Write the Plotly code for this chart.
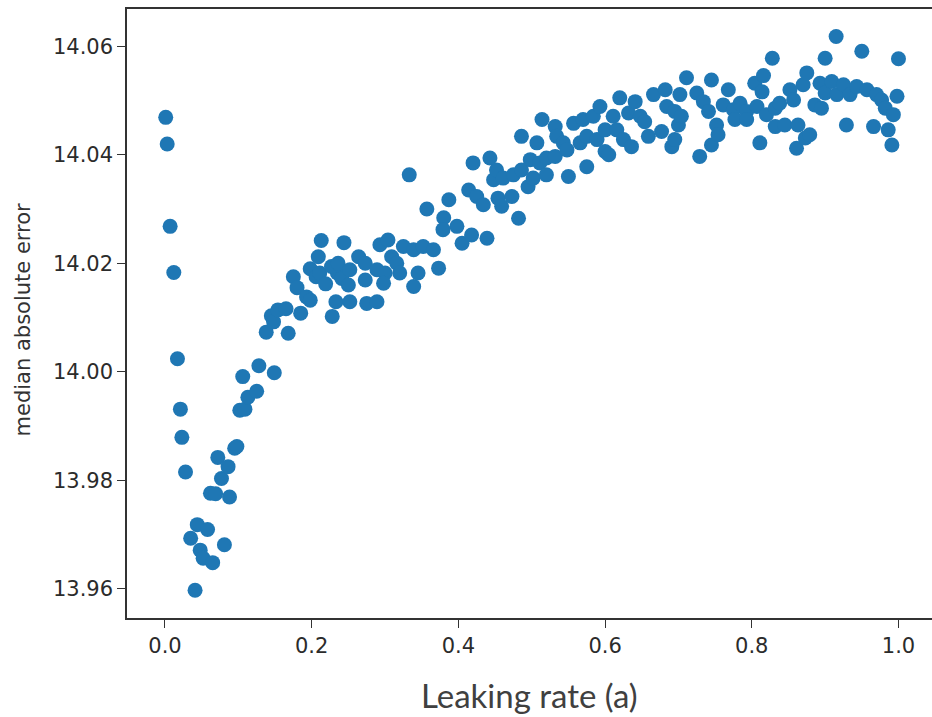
import plotly.graph_objects as go

# Leaking rate (a) vs. median absolute error of the reservoir model
leak_rate = [
    0.001, 0.003, 0.007, 0.012, 0.017, 0.021, 0.023, 0.028, 0.035, 0.041,
    0.044, 0.048, 0.052, 0.058, 0.062, 0.065, 0.069, 0.072, 0.077, 0.081,
    0.086, 0.088, 0.095, 0.098, 0.102, 0.109, 0.106, 0.113, 0.125, 0.128,
    0.149, 0.138, 0.145, 0.148, 0.154, 0.165, 0.168, 0.175, 0.180, 0.185,
    0.193, 0.198, 0.198, 0.206, 0.211, 0.219, 0.235, 0.209, 0.213, 0.227,
    0.236, 0.233, 0.228, 0.244, 0.241, 0.250, 0.252, 0.252, 0.264, 0.273,
    0.273, 0.275, 0.289, 0.289, 0.293, 0.304, 0.300, 0.298, 0.309, 0.316,
    0.320, 0.325, 0.333, 0.339, 0.339, 0.345, 0.352, 0.357, 0.366, 0.373,
    0.380, 0.379, 0.387, 0.398, 0.405, 0.414, 0.418, 0.420, 0.425, 0.434,
    0.439, 0.443, 0.448, 0.452, 0.454, 0.459, 0.461, 0.473, 0.475, 0.482,
    0.486, 0.486, 0.495, 0.498, 0.502, 0.507, 0.511, 0.514, 0.520, 0.520,
    0.532, 0.532, 0.534, 0.543, 0.548, 0.550, 0.557, 0.566, 0.570, 0.575,
    0.575, 0.584, 0.589, 0.593, 0.600, 0.600, 0.605, 0.611, 0.616, 0.620,
    0.625, 0.632, 0.636, 0.641, 0.648, 0.654, 0.659, 0.666, 0.677, 0.682,
    0.684, 0.691, 0.695, 0.695, 0.700, 0.702, 0.704, 0.711, 0.725, 0.729,
    0.734, 0.741, 0.745, 0.745, 0.752, 0.754, 0.761, 0.768, 0.775, 0.777,
    0.784, 0.793, 0.793, 0.804, 0.807, 0.811, 0.816, 0.814, 0.820, 0.828,
    0.832, 0.832, 0.838, 0.845, 0.852, 0.857, 0.861, 0.863, 0.870, 0.873,
    0.875, 0.879, 0.886, 0.893, 0.895, 0.900, 0.900, 0.909, 0.915, 0.916,
    0.925, 0.929, 0.934, 0.943, 0.950, 0.957, 0.966, 0.970, 0.977, 0.982,
    0.986, 0.991, 0.993, 0.998, 1.000,
]

median_abs_error = [
    14.0469, 14.0420, 14.0268, 14.0183, 14.0024, 13.9931, 13.9879, 13.9815, 13.9693, 13.9597,
    13.9718, 13.9671, 13.9656, 13.9709, 13.9776, 13.9648, 13.9775, 13.9842, 13.9803, 13.9681,
    13.9825, 13.9769, 13.9859, 13.9862, 13.9929, 13.9931, 13.9991, 13.9953, 13.9964, 14.0011,
    13.9998, 14.0073, 14.0103, 14.0092, 14.0114, 14.0116, 14.0071, 14.0175, 14.0155, 14.0108,
    14.0138, 14.0132, 14.0190, 14.0175, 14.0182, 14.0162, 14.0182, 14.0212, 14.0242, 14.0194,
    14.0200, 14.0129, 14.0102, 14.0238, 14.0172, 14.0160, 14.0188, 14.0129, 14.0212, 14.0200,
    14.0169, 14.0126, 14.0129, 14.0188, 14.0234, 14.0243, 14.0182, 14.0163, 14.0212, 14.0200,
    14.0182, 14.0231, 14.0363, 14.0225, 14.0157, 14.0182, 14.0231, 14.0300, 14.0225, 14.0191,
    14.0284, 14.0262, 14.0317, 14.0268, 14.0237, 14.0335, 14.0252, 14.0385, 14.0323, 14.0308,
    14.0246, 14.0394, 14.0354, 14.0372, 14.0320, 14.0305, 14.0357, 14.0323, 14.0363, 14.0283,
    14.0372, 14.0434, 14.0341, 14.0391, 14.0357, 14.0422, 14.0385, 14.0465, 14.0394, 14.0363,
    14.0452, 14.0397, 14.0434, 14.0422, 14.0409, 14.0360, 14.0458, 14.0422, 14.0465, 14.0434,
    14.0378, 14.0471, 14.0428, 14.0489, 14.0446, 14.0406, 14.0400, 14.0471, 14.0446, 14.0505,
    14.0428, 14.0477, 14.0415, 14.0498, 14.0471, 14.0461, 14.0434, 14.0511, 14.0443, 14.0520,
    14.0489, 14.0415, 14.0480, 14.0428, 14.0455, 14.0511, 14.0471, 14.0542, 14.0514, 14.0397,
    14.0498, 14.0480, 14.0538, 14.0418, 14.0455, 14.0437, 14.0492, 14.0520, 14.0483, 14.0465,
    14.0495, 14.0480, 14.0465, 14.0532, 14.0489, 14.0422, 14.0546, 14.0516, 14.0474, 14.0578,
    14.0486, 14.0452, 14.0495, 14.0455, 14.0520, 14.0501, 14.0412, 14.0455, 14.0529, 14.0431,
    14.0551, 14.0437, 14.0492, 14.0532, 14.0486, 14.0578, 14.0514, 14.0535, 14.0618, 14.0511,
    14.0529, 14.0455, 14.0511, 14.0526, 14.0591, 14.0520, 14.0452, 14.0511, 14.0501, 14.0486,
    14.0446, 14.0418, 14.0474, 14.0508, 14.0577,
]

x_ticks = [0.0, 0.2, 0.4, 0.6, 0.8, 1.0]
y_ticks = [13.96, 13.98, 14.00, 14.02, 14.04, 14.06]

x_title = "Leaking rate (a)"
y_title = "median absolute error"

n = min(len(leak_rate), len(median_abs_error))

fig = go.Figure(
    go.Scatter(
        x=leak_rate[:n],
        y=median_abs_error[:n],
        mode="markers",
        marker=dict(color="#1f77b4", size=15, line=dict(width=0)),
        hoverinfo="x+y",
    )
)

tick_font = dict(family="DejaVu Sans", size=21, color="#2b2b2b")
axis_common = dict(
    showgrid=False,
    zeroline=False,
    showline=True,
    linecolor="#333333",
    linewidth=1.5,
    ticks="outside",
    ticklen=8,
    tickwidth=1.3,
    tickcolor="#333333",
    tickfont=tick_font,
)

fig.update_xaxes(
    range=[-0.0518, 1.0457],
    tickvals=x_ticks,
    tickformat=".1f",
    mirror=True,
    **axis_common,
)
fig.update_yaxes(
    range=[13.95459, 14.06688],
    tickvals=y_ticks,
    tickformat=".2f",
    **axis_common,
)

fig.add_annotation(
    text=y_title,
    xref="paper", yref="paper",
    x=-0.1286, y=0.491,
    xanchor="center", yanchor="middle",
    textangle=-90,
    showarrow=False,
    font=dict(family="DejaVu Sans", size=21, color="#333333"),
)
fig.add_annotation(
    text=x_title,
    xref="paper", yref="paper",
    x=0.4994, y=-0.126,
    xanchor="center", yanchor="middle",
    showarrow=False,
    font=dict(family="Lato", size=33, color="#404040"),
)

fig.update_layout(
    width=932,
    height=717,
    margin=dict(l=127, r=0, t=9, b=99),
    paper_bgcolor="white",
    plot_bgcolor="white",
    showlegend=False,
)

fig.write_html("out.html")
